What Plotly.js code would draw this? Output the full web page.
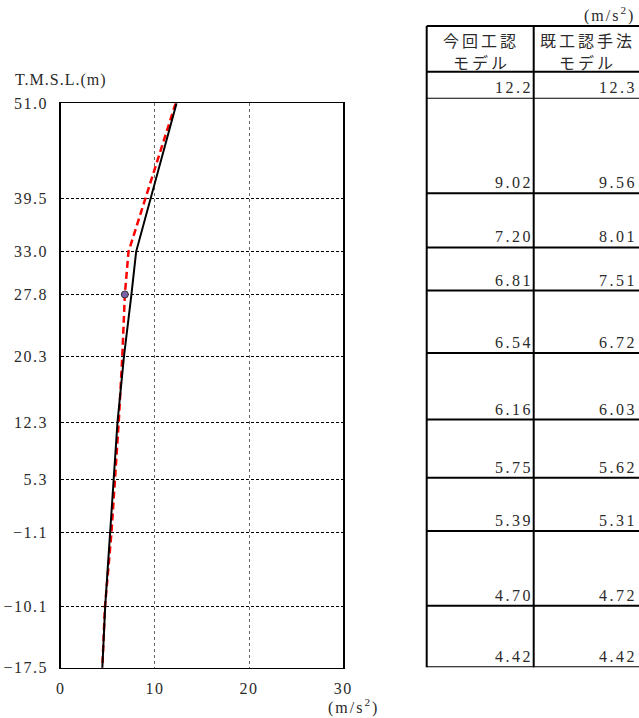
<!DOCTYPE html>
<html>
<head>
<meta charset="utf-8">
<script src="https://cdn.plot.ly/plotly-3.0.1.min.js"></script>
<style>
html,body{margin:0;padding:0;background:#fff;}
#chart{width:639px;height:718px;}
#chart .ytick text, #chart .xtick text{letter-spacing:1.5px;}
</style>
</head>
<body>
<div id="chart"></div>
<script>
// ---- data ----
const elevations = [51.0, 39.5, 33.0, 27.8, 20.3, 12.3, 5.3, -1.1, -10.1, -17.5];
const konkaiModel = [12.2, 9.02, 7.20, 6.81, 6.54, 6.16, 5.75, 5.39, 4.70, 4.42];   // 今回工認モデル
const kikoninModel = [12.3, 9.56, 8.01, 7.51, 6.72, 6.03, 5.62, 5.31, 4.72, 4.42];  // 既工認手法モデル
const markerIndex = 3; // point marked on 今回工認 curve
const xTicks = [0, 10, 20, 30];
const colHeaders1 = ["今回工認", "既工認手法"];
const colHeaders2 = ["モデル", "モデル"];
const unitText = "(m/s<sup>2</sup>)";
const yTitle = "T.M.S.L.(m)";

// ---- layout helpers ----
const W = 639, H = 718;
const px = v => v / W;
const py = v => 1 - v / H;
const numFont = "Liberation Serif, DejaVu Serif, serif";
const jpFont = "Noto Sans CJK JP, sans-serif";
const txtColor = '#2a2a2a';
const spaced = (s, ls) => '<span style="letter-spacing:' + ls + 'px">' + s + '</span>';

const fmt = v => (v < 0 ? "\u2212" + Math.abs(v).toFixed(1) : v.toFixed(1));
const fmt2 = v => (v >= 10 ? v.toFixed(1) : v.toFixed(2));

const traces = [
  {x: konkaiModel, y: elevations, mode: 'lines', xaxis: 'x', yaxis: 'y',
   line: {color: '#ff0000', width: 2.5, dash: '7px,4px'}, hoverinfo: 'skip'},
  {x: kikoninModel, y: elevations, mode: 'lines', xaxis: 'x', yaxis: 'y',
   line: {color: '#000000', width: 2}, hoverinfo: 'skip'},
  {x: [konkaiModel[markerIndex]], y: [elevations[markerIndex]], mode: 'markers', xaxis: 'x', yaxis: 'y',
   marker: {color: '#7a64a8', size: 7, line: {color: '#333', width: 1}}, hoverinfo: 'skip'}
];

// table column boundaries (paper px)
const colL = 426.7, colM = 533.7, colR = 640.7;
const tableTop = 26, headerBottom = 71.7, tableBottom = 667.3;

const shapes = [];
elevations.forEach(e => {
  shapes.push({type: 'line', xref: 'paper', yref: 'y2', x0: px(colL), x1: px(colR), y0: e, y1: e,
               line: {color: '#000', width: 2}});
});
shapes.push({type: 'line', xref: 'paper', yref: 'paper', x0: px(colL), x1: px(colR), y0: py(tableTop), y1: py(tableTop), line: {color: '#000', width: 2}});
shapes.push({type: 'line', xref: 'paper', yref: 'paper', x0: px(colL), x1: px(colR), y0: py(headerBottom), y1: py(headerBottom), line: {color: '#000', width: 2}});
[colL, colM].forEach(c => {
  shapes.push({type: 'line', xref: 'paper', yref: 'paper', x0: px(c), x1: px(c), y0: py(tableBottom), y1: py(tableTop), line: {color: '#000', width: 2}});
});

const annotations = [];
const valFont = {family: numFont, size: 16, color: txtColor};
elevations.forEach((e, i) => {
  annotations.push({xref: 'paper', yref: 'y2', x: px(colM), y: e, xanchor: 'right', yanchor: 'bottom',
    text: spaced(fmt2(konkaiModel[i]), 2.5), showarrow: false, font: valFont, borderpad: 0, yshift: 1, xshift: 0});
  annotations.push({xref: 'paper', yref: 'y2', x: px(colR - 3), y: e, xanchor: 'right', yanchor: 'bottom',
    text: spaced(fmt2(kikoninModel[i]), 2.5), showarrow: false, font: valFont, borderpad: 0, yshift: 1, xshift: 0});
});
const hdrFont = {family: jpFont, size: 16, color: txtColor};
const colCenters = [(colL + colM) / 2 + 1, (colM + colR) / 2];
colCenters.forEach((c, i) => {
  annotations.push({xref: 'paper', yref: 'paper', x: px(c), y: py(39.5), xanchor: 'center', yanchor: 'middle',
    text: spaced(colHeaders1[i], 3), showarrow: false, font: hdrFont, borderpad: 0});
  annotations.push({xref: 'paper', yref: 'paper', x: px(c), y: py(62), xanchor: 'center', yanchor: 'middle',
    text: spaced(colHeaders2[i], 3), showarrow: false, font: hdrFont, borderpad: 0});
});
const unitFont = {family: numFont, size: 16, color: txtColor};
annotations.push({xref: 'paper', yref: 'paper', x: px(636), y: py(14), xanchor: 'right', yanchor: 'middle',
  text: spaced(unitText, 2), showarrow: false, font: unitFont, borderpad: 0});
annotations.push({xref: 'paper', yref: 'paper', x: px(327), y: py(706), xanchor: 'left', yanchor: 'middle',
  text: spaced(unitText, 2), showarrow: false, font: unitFont, borderpad: 0});
annotations.push({xref: 'paper', yref: 'paper', x: px(14), y: py(80), xanchor: 'left', yanchor: 'middle',
  text: spaced(yTitle, 1), showarrow: false, font: {family: numFont, size: 16, color: txtColor}, borderpad: 0});

const layout = {
  width: W, height: H,
  margin: {l: 0, r: 0, t: 0, b: 0},
  paper_bgcolor: '#fff', plot_bgcolor: '#fff',
  showlegend: false,
  font: {family: numFont, size: 16, color: txtColor},
  xaxis: {domain: [px(60.7), px(343.3)], range: [0, 30], anchor: 'y',
    tickvals: xTicks, ticktext: xTicks.map(String), ticks: '', ticklabelstandoff: 6,
    showgrid: true, gridcolor: '#666', griddash: 'dot', gridwidth: 1,
    showline: true, mirror: true, linecolor: '#000', linewidth: 1.5, zeroline: false, fixedrange: true},
  yaxis: {domain: [py(667.7), py(103.3)], range: [-17.5, 51], anchor: 'x',
    tickvals: elevations, ticktext: elevations.map(fmt), ticks: '', ticklabelstandoff: 8,
    showgrid: true, gridcolor: '#000', griddash: '3px,2px', gridwidth: 1,
    showline: true, mirror: true, linecolor: '#000', linewidth: 1.5, zeroline: false, fixedrange: true},
  xaxis2: {domain: [px(colL), 1], range: [0, 1], anchor: 'y2', visible: false, fixedrange: true},
  yaxis2: {domain: [py(tableBottom), py(97.7)], range: [-17.5, 51], anchor: 'x2', visible: false, fixedrange: true},
  shapes: shapes,
  annotations: annotations
};

Plotly.newPlot('chart', traces, layout, {staticPlot: true, displayModeBar: false});
</script>
</body>
</html>
